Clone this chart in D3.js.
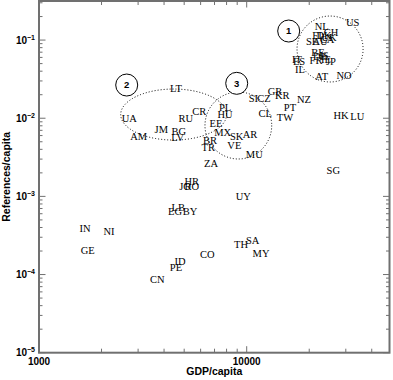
<!DOCTYPE html>
<html>
<head>
<meta charset="utf-8">
<script src="https://cdn.jsdelivr.net/npm/d3@7/dist/d3.min.js"></script>
<style>
  html, body { margin: 0; padding: 0; background: #fff; }
  svg { display: block; }
</style>
</head>
<body>
<svg id="chart" width="393" height="380"></svg>
<script>
// ---------- data ----------
const codes = ["US","NL","CH","FI","DK","UK","SE","AU","CA","BE","DE","FR","IS","JP","IE","IT","ES","IL","AT","NO",
  "LT","UA","RU","CR","AM","JM","BG","LV","PL","HU","EE","MX","SK","AR","VE","BR","TR","MU","ZA",
  "SI","CZ","GR","KR","NZ","PT","TW","CL","HK","LU","SG",
  "HR","JO","RO","LB","EG","BY","UY","IN","NI","GE","ID","PE","CN","TH","SA","MY","CO"];
const gdpPerCapita = [32400,22970,25460,21810,23560,24910,20630,22540,24360,22040,22540,21570,23560,25460,24090,17470,17860,18060,22970,29410,
  4566,2721,5086,5912,3020,3880,4706,4654,7863,7863,7116,7664,8952,10370,8717,6658,6534,10880,6732,
  10760,12120,13690,14840,18880,16160,15290,12290,28440,34080,26120,
  5436,5047,5440,4685,4516,5333,9630,1665,2173,1716,4774,4566,3712,9388,10690,11720,6462];
const refsPerCapita = [0.1668,0.1483,0.1231,0.1127,0.1127,0.1063,0.0959,0.0945,0.1002,0.0683,0.0607,0.054,0.0625,0.0524,0.0556,0.0556,0.0524,0.0414,0.034,0.0357,
  0.02414,0.00998,0.00977,0.01212,0.0058,0.00707,0.00672,0.00563,0.01363,0.01122,0.00844,0.00653,0.0058,0.0061,0.00445,0.00526,0.00425,0.00345,0.0026,
  0.01762,0.01775,0.02184,0.01941,0.0171,0.01363,0.01016,0.01156,0.01067,0.01046,0.00213,
  0.00154,0.00133,0.00133,0.000717,0.00064,0.00064,0.00099,0.00039,0.000353,0.000202,0.000146,0.000124,0.0000869,0.000244,0.000269,0.000187,0.000182];

// group annotations (dotted ellipses + numbered circles)
const groupIds = ["1","2","3"];
const groupGdpRange = [[17470,36340],[2474,8000],[6297,13196]];
const groupRefRange = [[0.0291,0.203],[0.00526,0.02364],[0.00301,0.02165]];
const markerGdp = [15930,2644,8952];
const markerRef = [0.1306,0.0266,0.02797];

// axis ticks
const xMajorTicks = [1000,10000];
const xTickLabels = ["1000","10000"];
const xMinorTicks = [2000,3000,4000,5000,6000,7000,8000,9000,20000,30000,40000];
const yMajorTicks = [1e-5,1e-4,1e-3,1e-2,1e-1];
const yTickExponents = ["\u22125","\u22124","\u22123","\u22122","\u22121"];
const yMinorTicks = [];
[1e-5,1e-4,1e-3,1e-2,1e-1].forEach(d => { for (let k = 2; k <= 9; k++) { const v = d * k; if (v <= Math.pow(10,-0.5)) yMinorTicks.push(v); } });

const xTitle = "GDP/capita";
const yTitle = "References/capita";

// ---------- layout ----------
const L = 39, R = 389.5, T = 1, B = 352.7;
const svg = d3.select("#chart");
const x = d3.scaleLog().domain([1000, 48700]).range([L, R]);
const y = d3.scaleLog().domain([1e-5, Math.pow(10, -0.5)]).range([B, T]);

const axisColor = "#707070";
const tickFont = "'Liberation Sans', Arial, sans-serif";

// ticks (inward, all four sides)
const tickG = svg.append("g").attr("stroke", axisColor).attr("stroke-width", 1);
function xTick(v, len) {
  tickG.append("line").attr("x1", x(v)).attr("x2", x(v)).attr("y1", B).attr("y2", B - len);
  tickG.append("line").attr("x1", x(v)).attr("x2", x(v)).attr("y1", T).attr("y2", T + len);
}
function yTick(v, len) {
  tickG.append("line").attr("y1", y(v)).attr("y2", y(v)).attr("x1", L).attr("x2", L + len);
  tickG.append("line").attr("y1", y(v)).attr("y2", y(v)).attr("x1", R).attr("x2", R - len);
}
xMajorTicks.forEach(v => xTick(v, 6.5));
xMinorTicks.forEach(v => xTick(v, 4));
yMajorTicks.forEach(v => yTick(v, 6.5));
yMinorTicks.forEach(v => yTick(v, 3.5));

// frame
svg.append("rect").attr("x", L).attr("y", T).attr("width", R - L).attr("height", B - T)
  .attr("fill", "none").attr("stroke", axisColor).attr("stroke-width", 2);

// x tick labels
svg.append("g").selectAll("text").data(xMajorTicks).join("text")
  .attr("x", d => x(d)).attr("y", 365)
  .attr("text-anchor", "middle")
  .attr("font-family", tickFont).attr("font-weight", "bold").attr("font-size", 10)
  .text((d, i) => xTickLabels[i]);

// y tick labels: 10^-n
const yl = svg.append("g").selectAll("text").data(yMajorTicks).join("text")
  .attr("x", 35).attr("y", d => y(d) + 3.5)
  .attr("text-anchor", "end")
  .attr("font-family", tickFont).attr("font-weight", "bold").attr("font-size", 10);
yl.append("tspan").text("10");
yl.append("tspan").attr("font-size", 7).attr("dy", -4).text((d, i) => yTickExponents[i]);

// axis titles
svg.append("text").attr("x", (L + R) / 2).attr("y", 374.5)
  .attr("text-anchor", "middle")
  .attr("font-family", tickFont).attr("font-weight", "bold").attr("font-size", 10.5)
  .text(xTitle);
svg.append("text")
  .attr("transform", `translate(9.5,${(T + B) / 2}) rotate(-90)`)
  .attr("text-anchor", "middle")
  .attr("font-family", tickFont).attr("font-weight", "bold").attr("font-size", 10.5)
  .text(yTitle);

// dotted ellipses
const ann = svg.append("g");
groupIds.forEach((g, i) => {
  const x0 = x(groupGdpRange[i][0]), x1 = x(groupGdpRange[i][1]);
  const y0 = y(groupRefRange[i][1]), y1 = y(groupRefRange[i][0]);
  ann.append("ellipse")
    .attr("cx", (x0 + x1) / 2).attr("cy", (y0 + y1) / 2)
    .attr("rx", (x1 - x0) / 2).attr("ry", (y1 - y0) / 2)
    .attr("fill", "none").attr("stroke", "#000").attr("stroke-width", 1)
    .attr("stroke-dasharray", "1,2");
});

// numbered circles
groupIds.forEach((g, i) => {
  ann.append("circle").attr("cx", x(markerGdp[i])).attr("cy", y(markerRef[i])).attr("r", 11)
    .attr("fill", "#fff").attr("stroke", "#000").attr("stroke-width", 1);
  ann.append("text").attr("x", x(markerGdp[i])).attr("y", y(markerRef[i]) + 3.3)
    .attr("text-anchor", "middle")
    .attr("font-family", tickFont).attr("font-weight", "bold").attr("font-size", 9.5)
    .text(g);
});

// country labels
const pts = codes.map((c, i) => ({ c, g: gdpPerCapita[i], r: refsPerCapita[i] }));
svg.append("g").selectAll("text").data(pts).join("text")
  .attr("x", d => x(d.g)).attr("y", d => y(d.r))
  .attr("dy", "0.33em")
  .attr("text-anchor", "middle")
  .attr("font-family", "'Liberation Serif', 'Times New Roman', serif")
  .attr("font-size", 10.5)
  .attr("fill", "#000")
  .text(d => d.c);
</script>
</body>
</html>
